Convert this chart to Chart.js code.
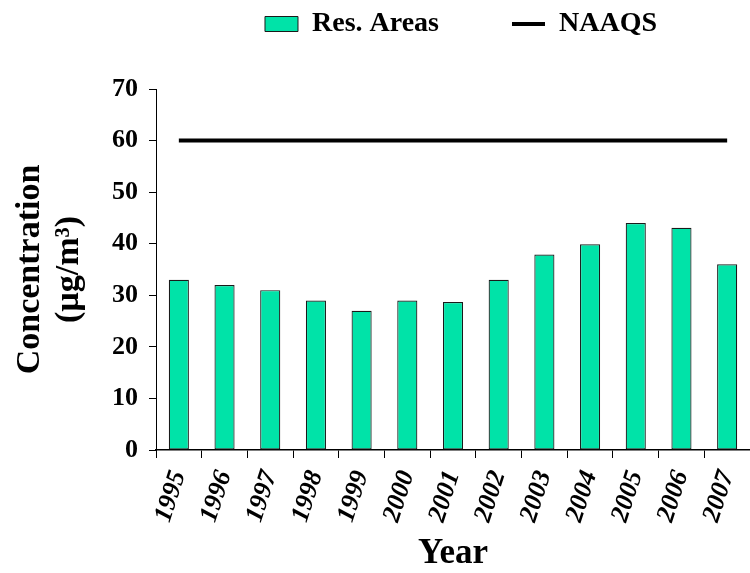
<!DOCTYPE html>
<html>
<head>
<meta charset="utf-8">
<script src="https://cdn.jsdelivr.net/npm/chart.js@4/dist/chart.umd.min.js"></script>
<style>
  html, body { margin: 0; padding: 0; background: #fff; }
  #wrap { width: 750px; height: 573px; }
</style>
</head>
<body>
<div id="wrap"><canvas id="c" width="750" height="573"></canvas></div>
<script>
const years = ['1995','1996','1997','1998','1999','2000','2001','2002','2003','2004','2005','2006','2007'];
const resAreas = [33, 32, 31, 29, 27, 29, 28.7, 33, 37.9, 39.9, 44, 43.1, 36];
const naaqs = [60, 60, 60, 60, 60, 60, 60, 60, 60, 60, 60, 60, 60];
const yTicks = [0, 10, 20, 30, 40, 50, 60, 70];
const seriesNames = ['Res. Areas', 'NAAQS'];
const yTitle = ['Concentration', '(µg/m³)'];
const xTitle = 'Year';

const SERIF = "'Liberation Serif', 'Times New Roman', Times, serif";

const legendShift = {
  id: 'legendShift',
  beforeDraw(chart) {
    const lg = chart.legend;
    if (!lg) return;
    const shift = 86;
    lg.left = shift;
    lg.right = chart.width + shift;
    lg.top = 10 - lg.options.labels.padding;
  }
};

new Chart(document.getElementById('c'), {
  data: {
    labels: years,
    datasets: [
      {
        type: 'bar',
        label: seriesNames[0],
        data: resAreas,
        backgroundColor: '#00E3A8',
        borderColor: '#1a1a1a',
        borderWidth: 1.2,
        borderSkipped: false,
        barPercentage: 0.44,
        categoryPercentage: 1.0,
        pointStyle: 'rect'
      },
      {
        type: 'line',
        label: seriesNames[1],
        data: naaqs,
        borderColor: '#000',
        backgroundColor: '#000',
        borderWidth: 4,
        borderCapStyle: 'butt',
        pointRadius: 0,
        pointHoverRadius: 0,
        pointStyle: 'line',
        pointBorderWidth: 4,
        pointBorderColor: '#000',
        fill: false,
        tension: 0
      }
    ]
  },
  options: {
    responsive: false,
    animation: false,
    devicePixelRatio: 1,
    layout: { padding: { left: 0, right: 0, top: 0, bottom: 0 } },
    plugins: {
      tooltip: { enabled: false },
      legend: {
        display: true,
        position: 'top',
        align: 'center',
        maxHeight: 89,
        labels: {
          usePointStyle: true,
          pointStyleWidth: 33,
          boxHeight: 15,
          padding: 73,
          color: '#000',
          font: { family: SERIF, size: 28, weight: 'bold' },
          generateLabels(chart) {
            const items = Chart.defaults.plugins.legend.labels.generateLabels(chart);
            if (items[0]) { items[0].pointStyle = 'rect'; items[0].lineWidth = 1; items[0].strokeStyle = '#1a1a1a'; items[0].fillStyle = '#00E3A8'; }
            if (items[1]) { items[1].pointStyle = 'line'; items[1].lineWidth = 4; items[1].strokeStyle = '#000'; }
            return items;
          }
        }
      }
    },
    scales: {
      x: {
        type: 'category',
        offset: true,
        grid: { offset: true, drawOnChartArea: false, drawTicks: true, tickLength: 8, color: '#000', lineWidth: 1 },
        border: { display: true, color: '#000', width: 1.5 },
        ticks: {
          color: '#000',
          font: { family: SERIF, size: 26, weight: 'bold', style: 'italic' },
          minRotation: 72,
          maxRotation: 72,
          autoSkip: false,
          padding: 9
        },
        title: {
          display: true,
          text: xTitle,
          color: '#000',
          font: { family: SERIF, size: 35, weight: 'bold', lineHeight: 1.1 },
          padding: { top: 0, bottom: 0 }
        },
        afterFit(scale) { scale.height = 123; scale.paddingLeft = 0; scale.paddingRight = 0; }
      },
      y: {
        min: 0,
        max: 70,
        grid: { drawOnChartArea: false, drawTicks: true, tickLength: 7, color: '#000', lineWidth: 1 },
        border: { display: true, color: '#000', width: 1 },
        afterBuildTicks(scale) { scale.ticks = yTicks.map(v => ({ value: v })); },
        ticks: {
          color: '#000',
          font: { family: SERIF, size: 26, weight: 'bold' },
          padding: 11
        },
        title: {
          display: true,
          text: yTitle,
          color: '#000',
          font: { family: SERIF, size: 34, weight: 'bold', lineHeight: 1.15 },
          padding: { top: 11, bottom: 0 }
        },
        afterFit(scale) { scale.width = 156; }
      }
    }
  },
  plugins: [legendShift]
});
</script>
</body>
</html>
